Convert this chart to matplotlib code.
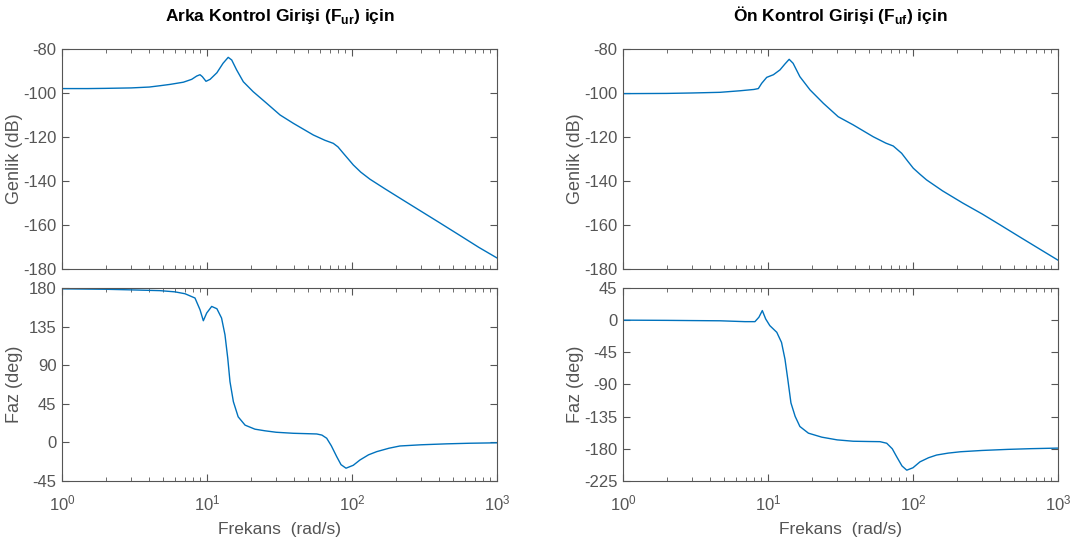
import numpy as np
import matplotlib
matplotlib.use("Agg")
import matplotlib.pyplot as plt
from matplotlib.ticker import LogLocator, NullFormatter, FixedLocator

# ---- data ----
# Left column: Arka Kontrol Girişi (F_ur)
w_mag_ur = [1, 1.5, 2, 3, 4, 4.74, 5.56, 6.87, 7.84, 8.49, 8.95, 9.29, 9.84, 10.5, 11.7, 12.9,
            14.0, 14.8, 16.0, 17.8, 20.8, 25.8, 31.9, 39.4, 54.1, 65, 74.3, 80, 87.1, 95, 102,
            115, 133, 170, 220, 300, 400, 550, 750, 1000]
mag_ur = [-98.0, -98.0, -97.9, -97.7, -97.3, -96.7, -96.1, -95.1, -93.8, -92.3, -91.7, -92.6,
          -94.7, -93.8, -90.8, -86.5, -83.8, -85.0, -89.5, -94.9, -99.4, -104.7, -110.0,
          -113.8, -119.1, -121.5, -122.9, -124.5, -127.4, -130.3, -132.7, -136.0, -139.2,
          -143.7, -148.3, -153.8, -158.9, -164.6, -170.2, -175.0]

w_ph_ur = [1, 2, 3, 4.74, 6.0, 7.05, 8.26, 8.95, 9.43, 9.95, 10.77, 11.7, 12.6, 13.3, 13.9,
           14.4, 15.2, 16.4, 18.3, 21.4, 25.1, 30, 39.4, 50, 57.1, 62, 66.9, 72, 78.4, 84,
           90.9, 102, 113.5, 130, 148, 180, 214, 300, 450, 650, 1000]
ph_ur = [179.0, 178.5, 177.8, 176.9, 175.5, 173.3, 168.3, 154.6, 141.8, 150.8, 158.5, 155.8,
         144.9, 125.4, 98.1, 70.8, 47.4, 29.8, 20.1, 15.4, 13.5, 11.8, 10.6, 10.1, 9.8, 8.5,
         4.8, -4.0, -16.6, -26.0, -30.1, -26.7, -20.5, -14.5, -10.8, -6.8, -4.2, -2.8, -1.7,
         -1.0, -0.5]

# Right column: Ön Kontrol Girişi (F_uf)
w_mag_uf = [1, 2, 3, 4.67, 6.41, 8.0, 8.58, 9.05, 9.8, 10.9, 12.1, 13.1, 14.0, 14.9, 16.6,
            19.5, 24.1, 30.5, 38.7, 53.2, 65, 73.1, 83.5, 92, 100.5, 112, 124, 160, 220, 300,
            400, 550, 750, 1000]
mag_uf = [-100.3, -100.2, -100.0, -99.7, -99.0, -98.4, -98.0, -95.6, -92.9, -91.7, -89.5,
          -86.8, -84.7, -86.5, -92.6, -98.6, -104.7, -110.8, -114.5, -119.9, -122.8, -124.1,
          -127.4, -131.0, -134.2, -137.0, -139.5, -144.5, -150.0, -155.0, -160.0, -165.6,
          -171.0, -176.0]

w_ph_uf = [1, 2, 3, 4.67, 6.94, 8.13, 8.66, 9.14, 9.64, 10.3, 11.5, 12.4, 13.1, 13.7, 14.4,
           15.4, 16.6, 19.0, 23.5, 30, 38.7, 50, 59.2, 65.9, 72, 77.2, 84, 90.6, 100, 111.8,
           128, 145.6, 175, 213, 300, 450, 650, 1000]
ph_uf = [0.0, -0.3, -0.6, -0.9, -2.1, -2.1, 4.1, 13.4, 1.7, -7.7, -17.0, -31.2, -54.7, -82.9,
         -115.8, -134.7, -148.8, -158.1, -163.7, -167.5, -169.4, -169.8, -170.0, -172.2,
         -180.0, -191.1, -204.0, -209.9, -206.5, -198.2, -192.5, -188.7, -186.0, -184.1,
         -182.3, -180.8, -179.8, -179.0]

titles = ["Arka Kontrol Girişi (F$_{\\mathbf{ur}}$) için", "Ön Kontrol Girişi (F$_{\\mathbf{uf}}$) için"]
mag_ticks = [-180, -160, -140, -120, -100, -80]
ph_ticks_ur = [-45, 0, 45, 90, 135, 180]
ph_ticks_uf = [-225, -180, -135, -90, -45, 0, 45]

# ---- styling ----
plt.rcParams['font.family'] = ['Liberation Sans', 'DejaVu Sans']
plt.rcParams['axes.unicode_minus'] = False
plt.rcParams['mathtext.fontset'] = 'custom'
plt.rcParams['mathtext.rm'] = 'Liberation Sans'
plt.rcParams['mathtext.bf'] = 'Liberation Sans:bold'
line_c = '#0072BD'
ax_c = '#555555'
txt_c = '#555555'

fig = plt.figure(figsize=(10.73, 5.4), dpi=100)

cols = [0.0578, 0.5806]
W = 0.4054
top_rect = (0.5019, 0.4074)
bot_rect = (0.1093, 0.3574)


def style(ax, yticks, ylim, xlabels):
    ax.set_xscale('log')
    ax.set_xlim(1, 1000)
    ax.set_ylim(*ylim)
    ax.yaxis.set_major_locator(FixedLocator(yticks))
    ax.xaxis.set_major_locator(LogLocator(base=10, numticks=10))
    ax.xaxis.set_minor_locator(LogLocator(base=10, subs=np.arange(2, 10), numticks=20))
    ax.xaxis.set_minor_formatter(NullFormatter())
    ax.tick_params(which='both', direction='in', top=True, right=True, colors=ax_c,
                   labelcolor=txt_c, labelsize=12)
    ax.tick_params(which='major', length=5, width=0.8)
    ax.tick_params(which='minor', length=3, width=0.6)
    ax.tick_params(axis='x', pad=9)
    ax.tick_params(axis='y', pad=4)
    for s in ax.spines.values():
        s.set_color(ax_c)
        s.set_linewidth(0.8)
    if not xlabels:
        ax.tick_params(labelbottom=False)


data = [
    (w_mag_ur, mag_ur, w_ph_ur, ph_ur, ph_ticks_ur, (-45, 180)),
    (w_mag_uf, mag_uf, w_ph_uf, ph_uf, ph_ticks_uf, (-225, 45)),
]

for i, (wm, m, wp, p, pticks, plim) in enumerate(data):
    x0 = cols[i]
    axm = fig.add_axes([x0, top_rect[0], W, top_rect[1]])
    axm.plot(wm, m, color=line_c, lw=1.0)
    style(axm, mag_ticks, (-180, -80), False)
    axm.set_ylabel('Genlik (dB)', fontsize=13, color=txt_c)
    axm.set_title(titles[i], fontsize=12.5, fontweight='bold', color='black', pad=20)

    axp = fig.add_axes([x0, bot_rect[0], W, bot_rect[1]])
    axp.plot(wp, p, color=line_c, lw=1.0)
    style(axp, pticks, plim, True)
    axp.set_ylabel('Faz (deg)', fontsize=13, color=txt_c)
    axp.set_xlabel('Frekans  (rad/s)', fontsize=12.5, color=txt_c, labelpad=6)
    axm.yaxis.set_label_coords(-0.09, 0.5)
    axp.yaxis.set_label_coords(-0.09, 0.5)

fig.savefig('out.png', dpi=100)
